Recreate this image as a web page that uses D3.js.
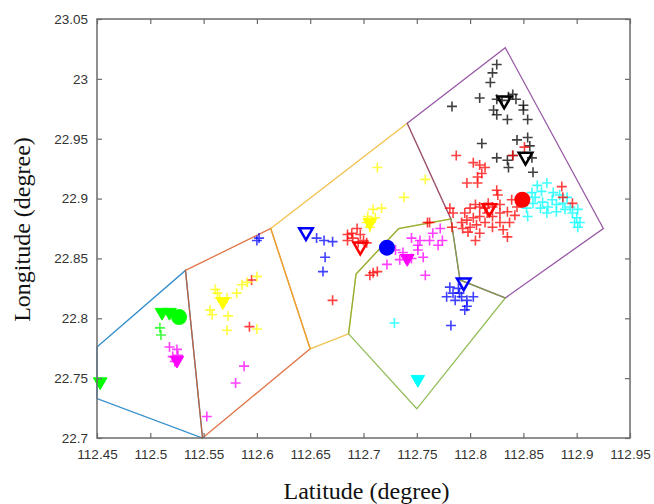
<!DOCTYPE html>
<html>
<head>
<meta charset="utf-8">
<script src="https://cdn.jsdelivr.net/npm/d3@7"></script>
<style>
  body { margin: 0; background: #fff; }
</style>
</head>
<body>
<div id="chart"></div>
<script>
// Tick values
var xTicks = [112.45, 112.5, 112.55, 112.6, 112.65, 112.7, 112.75, 112.8, 112.85, 112.9, 112.95];
var yTicks = [22.7, 22.75, 22.8, 22.85, 22.9, 22.95, 23, 23.05];

// Cell boundaries (lat, lon)
var cell1 = [[112.45, 22.776], [112.533, 22.840], [112.549, 22.700], [112.45, 22.733]];
var cell2 = [[112.533, 22.840], [112.613, 22.875], [112.650, 22.7745], [112.549, 22.700]];
var cell3 = [[112.613, 22.875], [112.741, 22.963], [112.782, 22.883], [112.733, 22.875], [112.693, 22.837], [112.686, 22.787], [112.650, 22.7745]];
var cell4 = [[112.741, 22.963], [112.833, 23.026], [112.925, 22.875], [112.833, 22.817], [112.7905, 22.832], [112.782, 22.883]];
var cell5 = [[112.686, 22.787], [112.693, 22.837], [112.733, 22.875], [112.782, 22.883], [112.7905, 22.832], [112.833, 22.817], [112.750, 22.7244]];

// Samples per group
var ptsCyan = [[112.863, 22.911], [112.872, 22.913], [112.867, 22.906], [112.858, 22.905], [112.878, 22.905], [112.884, 22.903],
  [112.891, 22.901], [112.877, 22.899], [112.868, 22.897], [112.859, 22.896], [112.853, 22.892], [112.866, 22.892],
  [112.873, 22.893], [112.881, 22.895], [112.887, 22.896], [112.894, 22.893], [112.889, 22.891], [112.881, 22.889],
  [112.896, 22.888], [112.901, 22.891], [112.900, 22.884], [112.903, 22.880], [112.898, 22.880], [112.901, 22.876],
  [112.872, 22.888], [112.854, 22.885], [112.861, 22.901], [112.729, 22.796]];
var ptsBlack = [[112.825, 23.012], [112.821, 23.005], [112.819, 22.997], [112.783, 22.977], [112.809, 22.984], [112.825, 22.983],
  [112.830, 22.982], [112.836, 22.985], [112.840, 22.987], [112.843, 22.983], [112.822, 22.974], [112.825, 22.970],
  [112.835, 22.966], [112.850, 22.978], [112.850, 22.974], [112.854, 22.966], [112.811, 22.946], [112.844, 22.949],
  [112.854, 22.951], [112.825, 22.934], [112.835, 22.932], [112.836, 22.926], [112.858, 22.934], [112.859, 22.922],
  [112.840, 22.936], [112.856, 22.944]];
var ptsRed = [[112.787, 22.936], [112.803, 22.930], [112.809, 22.928], [112.814, 22.926], [112.811, 22.921], [112.807, 22.918],
  [112.797, 22.913], [112.807, 22.913], [112.825, 22.907], [112.826, 22.903], [112.840, 22.936], [112.851, 22.943],
  [112.886, 22.910], [112.887, 22.901], [112.896, 22.896], [112.781, 22.892], [112.784, 22.888], [112.795, 22.888],
  [112.800, 22.892], [112.805, 22.895], [112.809, 22.893], [112.814, 22.892], [112.817, 22.896], [112.821, 22.893],
  [112.828, 22.895], [112.839, 22.899], [112.844, 22.893], [112.835, 22.889], [112.828, 22.888], [112.821, 22.885],
  [112.816, 22.888], [112.809, 22.885], [112.803, 22.884], [112.797, 22.882], [112.792, 22.880], [112.793, 22.875],
  [112.800, 22.876], [112.806, 22.878], [112.814, 22.880], [112.821, 22.876], [112.828, 22.880], [112.837, 22.880],
  [112.842, 22.886], [112.831, 22.874], [112.835, 22.868], [112.805, 22.865], [112.798, 22.872], [112.809, 22.871],
  [112.783, 22.876], [112.760, 22.880], [112.762, 22.880],
  [112.694, 22.875], [112.689, 22.871], [112.685, 22.870], [112.697, 22.870], [112.690, 22.867], [112.700, 22.865],
  [112.695, 22.863], [112.703, 22.863], [112.685, 22.865], [112.709, 22.838], [112.706, 22.836], [112.713, 22.839],
  [112.671, 22.815], [112.595, 22.832], [112.593, 22.793]];
var ptsBlue = [[112.656, 22.867], [112.663, 22.865], [112.671, 22.864], [112.664, 22.851], [112.662, 22.839], [112.600, 22.865],
  [112.602, 22.867], [112.778, 22.818], [112.784, 22.821], [112.789, 22.825], [112.792, 22.818], [112.797, 22.815],
  [112.803, 22.818], [112.797, 22.810], [112.786, 22.815], [112.781, 22.826], [112.795, 22.807], [112.782, 22.794],
  [112.790, 22.821]];
var ptsYellow = [[112.713, 22.926], [112.758, 22.916], [112.738, 22.901], [112.717, 22.892], [112.709, 22.891], [112.704, 22.885],
  [112.711, 22.884], [112.703, 22.880], [112.706, 22.876], [112.561, 22.824], [112.563, 22.821], [112.572, 22.817],
  [112.565, 22.817], [112.581, 22.821], [112.586, 22.828], [112.591, 22.830], [112.600, 22.835], [112.556, 22.807],
  [112.558, 22.803], [112.573, 22.802], [112.572, 22.790], [112.600, 22.791]];
var ptsMagenta = [[112.518, 22.776], [112.525, 22.774], [112.526, 22.769], [112.521, 22.768], [112.523, 22.764], [112.588, 22.760],
  [112.580, 22.746], [112.553, 22.718], [112.745, 22.867], [112.753, 22.865], [112.751, 22.861], [112.762, 22.865],
  [112.765, 22.871], [112.772, 22.875], [112.774, 22.865], [112.770, 22.861], [112.756, 22.851], [112.758, 22.836],
  [112.722, 22.845], [112.730, 22.857], [112.737, 22.855], [112.734, 22.849], [112.751, 22.857], [112.745, 22.850]];
var ptsGreen = [[112.509, 22.792], [112.510, 22.786]];

// Down triangles: [lat, lon, colour, filled]
var triangles = [
  [112.511, 22.805, '#00ff00', true], [112.518, 22.805, '#00ff00', true], [112.453, 22.747, '#00ff00', true],
  [112.525, 22.765, '#ff00ff', true], [112.568, 22.814, '#ffff00', true], [112.706, 22.880, '#ffff00', true],
  [112.646, 22.872, '#0000ff', false], [112.697, 22.860, '#ff0000', false], [112.741, 22.850, '#ff00ff', true],
  [112.794, 22.830, '#0000ff', false], [112.751, 22.749, '#00ffff', true], [112.832, 22.982, '#000000', false],
  [112.852, 22.935, '#000000', false], [112.818, 22.892, '#ff0000', false]
];
// Centres
var centres = [[112.527, 22.801, '#00ff00'], [112.722, 22.859, '#0000ff'], [112.849, 22.899, '#ff0000']];

var svgwidth = 654;
var svgheight = 504;
const margin = { top: 19, bottom: 66, left: 97, right: 24 };
var inner_width = svgwidth - margin.left - margin.right;
var inner_height = svgheight - margin.top - margin.bottom;

var svg = d3.select('#chart')
  .append('svg')
  .attr('width', svgwidth)
  .attr('height', svgheight);

var g = svg.append('g')
  .attr('transform', 'translate(' + margin.left + ',' + margin.top + ')');

var xScale = d3.scaleLinear().domain([112.45, 112.95]).range([0, inner_width]);
var yScale = d3.scaleLinear().domain([22.7, 23.05]).range([inner_height, 0]);

// cells
var cellColors = ['#0072bd', '#d95319', '#edb120', '#7e2f8e', '#77ac30'];
var line = d3.line().x(d => xScale(d[0])).y(d => yScale(d[1])).curve(d3.curveLinearClosed);
g.append('g')
  .selectAll('path')
  .data([cell1, cell2, cell3, cell4, cell5])
  .join('path')
  .attr('d', line)
  .attr('fill', 'none')
  .attr('stroke', (d, i) => cellColors[i])
  .attr('stroke-opacity', 0.8)
  .attr('stroke-width', 1.3);

// plus markers
var plus = 'M-5,0H5M0,-5V5';
var groups = [[ptsCyan, '#00ffff'], [ptsBlack, '#000000'], [ptsRed, '#ff0000'], [ptsBlue, '#0000ff'],
  [ptsYellow, '#ffff00'], [ptsMagenta, '#ff00ff'], [ptsGreen, '#00ff00']];
groups.forEach(function(grp) {
  g.append('g')
    .selectAll('path')
    .data(grp[0])
    .join('path')
    .attr('d', plus)
    .attr('transform', d => 'translate(' + xScale(d[0]) + ',' + yScale(d[1]) + ')')
    .attr('fill', 'none')
    .attr('stroke', grp[1])
    .attr('stroke-opacity', 0.75)
    .attr('stroke-width', 1.6);
});

// triangles
var tri = d3.symbol(d3.symbolTriangle, 80)();
g.append('g')
  .selectAll('path')
  .data(triangles)
  .join('path')
  .attr('d', tri)
  .attr('transform', d => 'translate(' + xScale(d[0]) + ',' + yScale(d[1]) + ') rotate(180)')
  .attr('fill', d => d[3] ? d[2] : 'none')
  .attr('stroke', d => d[2])
  .attr('stroke-width', d => d[3] ? 1 : 2.5);

// centres
g.append('g')
  .selectAll('circle')
  .data(centres)
  .join('circle')
  .attr('cx', d => xScale(d[0]))
  .attr('cy', d => yScale(d[1]))
  .attr('r', 8)
  .attr('fill', d => d[2]);

// frame + axes
var axisColor = '#6b6b6b';
g.append('rect')
  .attr('width', inner_width)
  .attr('height', inner_height)
  .attr('fill', 'none')
  .attr('stroke', axisColor)
  .attr('stroke-width', 1.5);

var xAxis = d3.axisBottom(xScale).tickValues(xTicks).tickFormat(d => String(d))
  .tickSizeInner(-5).tickSizeOuter(0).tickPadding(11);
var yAxis = d3.axisLeft(yScale).tickValues(yTicks).tickFormat(d => String(d))
  .tickSizeInner(-5).tickSizeOuter(0).tickPadding(9);
var xTop = d3.axisTop(xScale).tickValues(xTicks).tickFormat('').tickSizeInner(-5).tickSizeOuter(0);
var yRight = d3.axisRight(yScale).tickValues(yTicks).tickFormat('').tickSizeInner(-5).tickSizeOuter(0);

g.append('g').attr('transform', 'translate(0,' + inner_height + ')').call(xAxis);
g.append('g').call(yAxis);
g.append('g').call(xTop);
g.append('g').attr('transform', 'translate(' + inner_width + ',0)').call(yRight);

g.selectAll('.domain').remove();
g.selectAll('.tick line').attr('stroke', axisColor).attr('stroke-width', 1.2);
g.selectAll('.tick text')
  .style('font-family', "'Liberation Sans', Arial, sans-serif")
  .style('font-size', '13.5px')
  .attr('fill', '#333');

// axis labels
svg.append('text')
  .attr('x', margin.left + inner_width / 2 + 3)
  .attr('y', 499)
  .attr('text-anchor', 'middle')
  .style('font-family', "'Liberation Serif', 'Times New Roman', serif")
  .style('font-size', '24px')
  .attr('fill', '#111')
  .text('Latitude (degree)');

svg.append('text')
  .attr('transform', 'translate(30,' + (margin.top + inner_height / 2 + 1) + ') rotate(-90)')
  .attr('text-anchor', 'middle')
  .style('font-family', "'Liberation Serif', 'Times New Roman', serif")
  .style('font-size', '24px')
  .attr('fill', '#111')
  .text('Longitude (degree)');
</script>
</body>
</html>
